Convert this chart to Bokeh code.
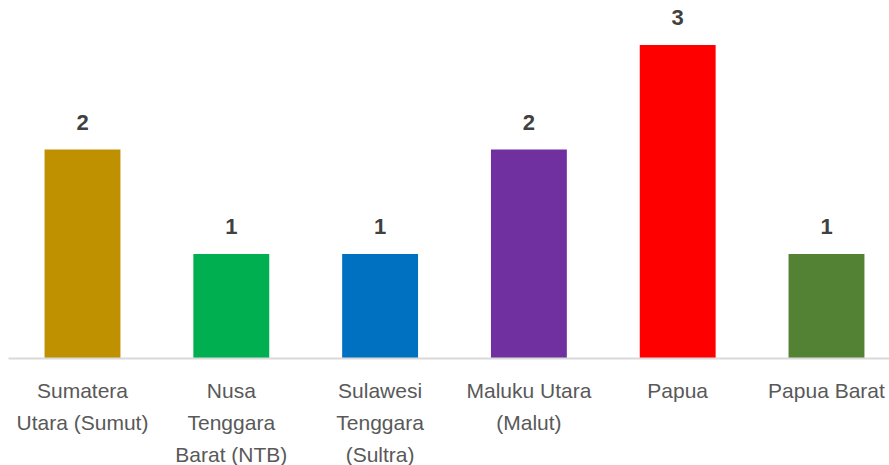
from bokeh.plotting import figure
from bokeh.models import Range1d, FixedTicker, ColumnDataSource, Label
from bokeh.embed import file_html
from bokeh.resources import INLINE

categories = ["Sumatera\nUtara (Sumut)", "Nusa\nTenggara\nBarat (NTB)", "Sulawesi\nTenggara\n(Sultra)",
              "Maluku Utara\n(Malut)", "Papua", "Papua Barat"]
values = [2, 1, 1, 2, 3, 1]
colors = ["#BF9000", "#00B050", "#0070C0", "#7030A0", "#FF0000", "#548235"]

xs = list(range(len(categories)))
src = ColumnDataSource(dict(x=xs, top=values, color=colors))

p = figure(frame_width=881, frame_height=350, output_backend="svg", toolbar_location=None,
           x_range=Range1d(-0.4973, 5.4234), y_range=Range1d(0, 3.349),
           y_axis_location=None, min_border=0, min_border_left=8, min_border_right=0,
           min_border_top=8, min_border_bottom=0, outline_line_color=None)
p.grid.visible = False

p.vbar(x="x", top="top", width=0.51, color="color", source=src, line_color=None)

for x, v in zip(xs, values):
    p.add_layout(Label(x=x, y=v, y_offset=27, text=str(v), text_align="center",
                       text_baseline="alphabetic", text_font="Arial", text_font_style="bold",
                       text_font_size="22px", text_color="#404040"))

ax = p.xaxis[0]
ax.ticker = FixedTicker(ticks=xs)
ax.major_label_overrides = {i: c for i, c in enumerate(categories)}
ax.axis_line_color = "#d9d9d9"
ax.axis_line_width = 2
ax.major_tick_line_color = None
ax.minor_tick_line_color = None
ax.major_label_text_font = "Arial"
ax.major_label_text_font_size = "21px"
ax.major_label_text_color = "#595959"
ax.major_label_text_line_height = 1.4
ax.major_label_standoff = 14

open("out.html", "w").write(file_html(p, INLINE))
